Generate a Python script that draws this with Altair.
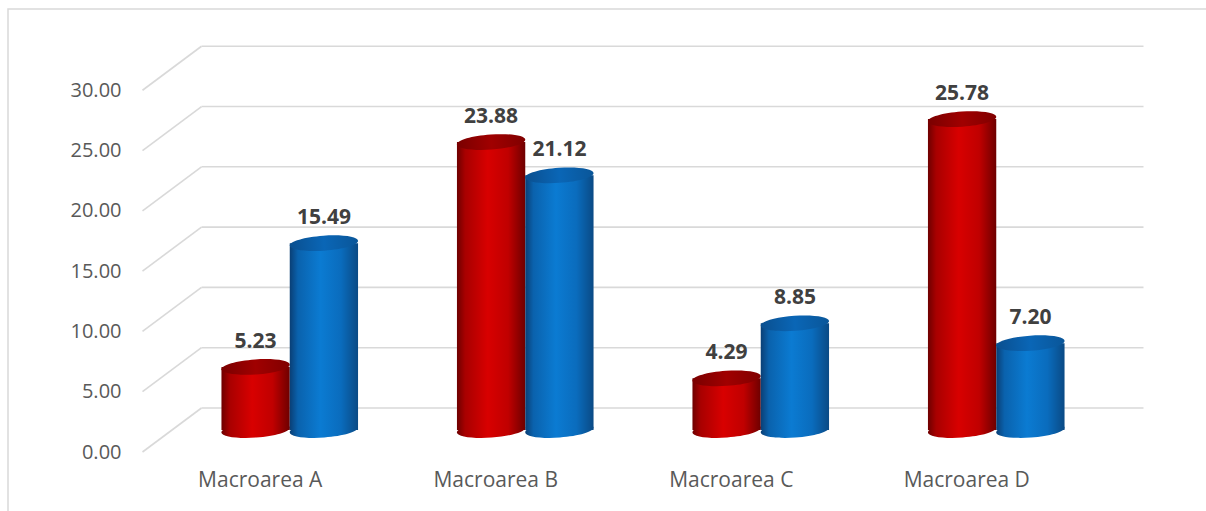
import altair as alt
import pandas as pd

categories = ["Macroarea A", "Macroarea B", "Macroarea C", "Macroarea D"]
series_names = ["Serie 1", "Serie 2"]
red_values = [5.23, 23.88, 4.29, 25.78]
blue_values = [15.49, 21.12, 8.85, 7.20]
grid_values = [0, 5, 10, 15, 20, 25, 30]

rows = []
for c, r, b in zip(categories, red_values, blue_values):
    rows.append({"category": c, "series": series_names[0], "value": r})
    rows.append({"category": c, "series": series_names[1], "value": b})
df = pd.DataFrame(rows)
grid_df = pd.DataFrame({"v": grid_values})

FONT = "Open Sans"
GRID = "#d9d9d9"
DEPTH_X = 29.5
DEPTH_Y = 22

yscale = alt.Scale(domain=[0, 34], nice=False, zero=True)
xscale = alt.Scale(domain=categories, paddingInner=0.42, paddingOuter=0.21)
xoscale = alt.Scale(domain=series_names, paddingInner=0, paddingOuter=0)

def grad(stops):
    return alt.LinearGradient(
        gradient="linear", x1=0, x2=1, y1=0, y2=0,
        stops=[alt.GradientStop(offset=o, color=c) for o, c in stops],
    )

red_body = grad([(0, "#6e0000"), (0.12, "#a80000"), (0.45, "#d80000"), (0.75, "#c00000"), (1, "#6e0000")])
red_top = grad([(0, "#7a0000"), (0.5, "#a00000"), (1, "#800000")])
blue_body = grad([(0, "#0a3f75"), (0.12, "#0a62ad"), (0.45, "#0b7bd2"), (0.75, "#0a6cbd"), (1, "#0a4a85")])
blue_top = grad([(0, "#0a4f8f"), (0.5, "#0a66b6"), (1, "#0a5699")])

ELLIPSE = "M-1,0A1,0.22,0,1,0,1,0A1,0.22,0,1,0,-1,0Z"
ESIZE = 68.5 * 68.5

# Gridlines: back wall and diagonal side wall
back = alt.Chart(grid_df).mark_rule(color=GRID, strokeWidth=1.6, yOffset=-DEPTH_Y).encode(
    y=alt.Y("v:Q", scale=yscale, axis=alt.Axis(
        values=grid_values, format=".2f", domain=False, ticks=False, grid=False,
        labelFont=FONT, labelFontSize=20, labelColor="#595959",
        labelPadding=51, labelOffset=DEPTH_Y, title=None)),
    x=alt.value(DEPTH_X), x2=alt.value(942 + DEPTH_X),
)
side = alt.Chart(grid_df).mark_rule(color=GRID, strokeWidth=1.6, yOffset=DEPTH_Y, y2Offset=-DEPTH_Y).encode(
    y=alt.Y("v:Q", scale=yscale),
    y2="v:Q",
    x=alt.value(-DEPTH_X), x2=alt.value(DEPTH_X),
)

frame = alt.Chart(grid_df).mark_rect(fill=None, stroke=GRID, strokeWidth=1.5).transform_filter(
    alt.datum.v == 0).encode(
    x=alt.value(-164), x2=alt.value(1100), y=alt.value(-11), y2=alt.value(520))

base = alt.Chart(df)
X = alt.X("category:N", scale=xscale, sort=categories, axis=alt.Axis(
    domain=False, ticks=False, labelAngle=0, labelFont=FONT, labelFontSize=21,
    labelColor="#595959", labelPadding=39, labelOffset=-DEPTH_X, title=None))
XO = alt.XOffset("series:N", scale=xoscale, sort=series_names)
Y = alt.Y("value:Q", scale=yscale)

layers = [frame, side, back]
for s, body, top in [(series_names[0], red_body, red_top), (series_names[1], blue_body, blue_top)]:
    sub = base.transform_filter(alt.datum.series == s)
    bottom_el = sub.mark_point(shape=ELLIPSE, size=ESIZE, filled=True, color=body, opacity=1,
                               strokeWidth=0, angle=356).encode(
        x=X, xOffset=XO, y=alt.Y("zero:Q", scale=yscale)).transform_calculate(zero="0")
    bar = sub.mark_bar(color=body).encode(x=X, xOffset=XO, y=Y, y2=alt.datum(0))
    top_el = sub.mark_point(shape=ELLIPSE, size=ESIZE, filled=True, color=top, opacity=1,
                            strokeWidth=0, angle=356).encode(x=X, xOffset=XO, y=Y)
    layers += [bottom_el, bar, top_el]

labels = base.mark_text(font=FONT, fontSize=21, fontWeight="bold", color="#404040",
                        dy=-25, baseline="middle").encode(
    x=X, xOffset=XO, y=Y, text=alt.Text("value:Q", format=".2f"))
layers.append(labels)

chart = alt.layer(*layers).properties(
    width=942, height=410,
    autosize=alt.AutoSizeParams(type="none"),
    padding={"left": 172, "top": 20, "right": 92, "bottom": 81},
    background="white",
).configure_view(stroke=None)

chart.save("out.html", embed_options={"renderer": "svg", "actions": False})
